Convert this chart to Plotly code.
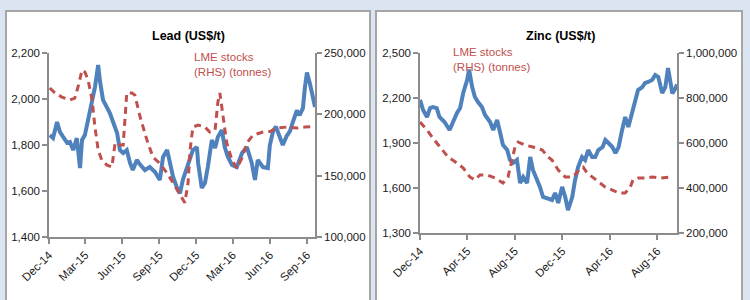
import plotly.graph_objects as go

# ---------------- Data ----------------
lead_price_dates = [
    "2014-12-03", "2014-12-11", "2014-12-21", "2014-12-28", "2015-01-05", "2015-01-15",
    "2015-01-22", "2015-01-30", "2015-02-08", "2015-02-16", "2015-02-21", "2015-02-28",
    "2015-03-08", "2015-03-18", "2015-03-25", "2015-04-02", "2015-04-06", "2015-04-14",
    "2015-04-24", "2015-05-01", "2015-05-09", "2015-05-19", "2015-05-26", "2015-06-03",
    "2015-06-12", "2015-06-20", "2015-06-27", "2015-07-07", "2015-07-15", "2015-07-27",
    "2015-08-08", "2015-08-21", "2015-09-02", "2015-09-10", "2015-09-20", "2015-09-27",
    "2015-10-05", "2015-10-14", "2015-10-22", "2015-10-29", "2015-11-08", "2015-11-16",
    "2015-11-23", "2015-12-03", "2015-12-06", "2015-12-15", "2015-12-23", "2015-12-30",
    "2016-01-09", "2016-01-17", "2016-01-24", "2016-02-03", "2016-02-10", "2016-02-18",
    "2016-02-28", "2016-03-11", "2016-03-24", "2016-04-05", "2016-04-17", "2016-04-25",
    "2016-05-02", "2016-05-15", "2016-05-27", "2016-06-01", "2016-06-09", "2016-06-16",
    "2016-06-26", "2016-07-03", "2016-07-13", "2016-07-21", "2016-07-28", "2016-08-07",
    "2016-08-14", "2016-08-22", "2016-08-27", "2016-09-01", "2016-09-08", "2016-09-16",
    "2016-09-21",
]
lead_price = [
    1843, 1830, 1900, 1857, 1835, 1809,
    1813, 1778, 1830, 1700, 1822, 1843,
    1909, 1996, 2052, 2148, 2083, 1996,
    1961, 1939, 1900, 1852, 1778, 1765,
    1778, 1722, 1691, 1735, 1715, 1691,
    1704, 1683, 1648, 1748, 1778, 1722,
    1661, 1617, 1590, 1648, 1704, 1748,
    1778, 1791, 1722, 1613, 1635, 1704,
    1822, 1787, 1835, 1865, 1791, 1748,
    1713, 1704, 1765, 1791, 1722, 1648,
    1735, 1704, 1700, 1800, 1860, 1880,
    1830, 1800, 1840, 1860, 1900, 1950,
    1930, 1960, 2050, 2115, 2070, 2000,
    1965,
]

lead_stock_dates = [
    "2014-12-03", "2014-12-16", "2015-01-02", "2015-01-22", "2015-02-03", "2015-02-11",
    "2015-02-21", "2015-02-28", "2015-03-08", "2015-03-18", "2015-03-25", "2015-04-02",
    "2015-04-11", "2015-04-24", "2015-05-06", "2015-05-14", "2015-05-21", "2015-06-03",
    "2015-06-12", "2015-06-25", "2015-07-02", "2015-07-15", "2015-08-01", "2015-08-16",
    "2015-09-02", "2015-09-20", "2015-10-05", "2015-10-22", "2015-11-03", "2015-11-11",
    "2015-11-16", "2015-11-23", "2015-12-06", "2015-12-23", "2016-01-04", "2016-01-17",
    "2016-01-24", "2016-01-29", "2016-02-06", "2016-02-15", "2016-02-28", "2016-03-11",
    "2016-03-24", "2016-04-05", "2016-04-20", "2016-05-15", "2016-06-01", "2016-06-18",
    "2016-07-13", "2016-08-07", "2016-08-27", "2016-09-16",
]
lead_stock = [
    221500, 217400, 214100, 211700, 213300, 222300,
    236100, 234500, 228000, 211700, 189600, 170900,
    162700, 158600, 157000, 176600, 175000, 175000,
    217400, 217400, 215700, 198000, 179000, 165000,
    160000, 152000, 144000, 134000, 128000, 144000,
    171000, 189600, 191300, 189600, 185600, 187200,
    210000, 217400, 197000, 176600, 162700, 156000,
    164400, 176600, 183000, 185600, 186000, 188800,
    189600, 188800, 189600, 190000,
]

zinc_price_dates = [
    "2014-12-01", "2014-12-09", "2014-12-19", "2014-12-27", "2015-01-03", "2015-01-13",
    "2015-01-20", "2015-02-02", "2015-02-15", "2015-02-23", "2015-03-06", "2015-03-14",
    "2015-03-22", "2015-04-01", "2015-04-06", "2015-04-14", "2015-04-21", "2015-04-29",
    "2015-05-09", "2015-05-17", "2015-05-30", "2015-06-07", "2015-06-17", "2015-06-25",
    "2015-07-02", "2015-07-13", "2015-07-20", "2015-07-28", "2015-08-07", "2015-08-15",
    "2015-08-23", "2015-09-02", "2015-09-10", "2015-09-17", "2015-09-28", "2015-10-05",
    "2015-10-13", "2015-10-23", "2015-11-05", "2015-11-13", "2015-11-21", "2015-12-01",
    "2015-12-09", "2015-12-16", "2015-12-27", "2016-01-03", "2016-01-11", "2016-01-21",
    "2016-01-29", "2016-02-06", "2016-02-16", "2016-02-24", "2016-03-03", "2016-03-14",
    "2016-03-21", "2016-03-29", "2016-04-08", "2016-04-16", "2016-04-24", "2016-05-03",
    "2016-05-11", "2016-05-19", "2016-05-29", "2016-06-06", "2016-06-13", "2016-06-24",
    "2016-07-01", "2016-07-09", "2016-07-19", "2016-07-27", "2016-08-04", "2016-08-14",
    "2016-08-22", "2016-08-29", "2016-09-03", "2016-09-09", "2016-09-16", "2016-09-21",
]
zinc_price = [
    2187, 2120, 2073, 2133, 2140, 2133,
    2073, 2040, 1987, 2040, 2100, 2133,
    2233, 2320, 2390, 2273, 2207, 2173,
    2140, 2087, 2040, 1987, 2053, 1967,
    1887, 1853, 1787, 1767, 1787, 1633,
    1673, 1633, 1807, 1720, 1653, 1607,
    1540, 1530, 1520, 1567, 1500, 1607,
    1540, 1453, 1540, 1650, 1740, 1807,
    1787, 1853, 1807, 1807, 1853, 1873,
    1920, 1900, 1873, 1833, 1873, 1987,
    2073, 2007, 2100, 2167, 2253, 2273,
    2300, 2307, 2320, 2353, 2340, 2233,
    2273, 2400, 2300, 2230, 2260, 2290,
]

zinc_stock_dates = [
    "2014-12-01", "2014-12-19", "2015-01-03", "2015-01-27", "2015-02-11", "2015-03-06",
    "2015-03-22", "2015-04-08", "2015-04-21", "2015-05-04", "2015-05-22", "2015-06-12",
    "2015-07-02", "2015-07-15", "2015-07-25", "2015-08-02", "2015-08-10", "2015-08-28",
    "2015-09-17", "2015-10-11", "2015-10-26", "2015-11-05", "2015-11-21", "2015-12-09",
    "2015-12-27", "2016-01-08", "2016-01-16", "2016-01-24", "2016-02-03", "2016-02-16",
    "2016-03-03", "2016-03-21", "2016-04-08", "2016-04-24", "2016-05-11", "2016-05-24",
    "2016-05-31", "2016-06-13", "2016-07-01", "2016-07-19", "2016-08-09", "2016-09-04",
]
zinc_stock = [
    693000, 658000, 622000, 569000, 538000, 511000,
    489000, 449000, 436000, 458000, 458000, 444000,
    422000, 449000, 524000, 582000, 604000, 591000,
    582000, 569000, 538000, 524000, 480000, 449000,
    449000, 467000, 489000, 493000, 467000, 449000,
    427000, 404000, 391000, 378000, 378000, 404000,
    436000, 444000, 444000, 449000, 444000, 449000,
]

lead_left_ticks = [1400, 1600, 1800, 2000, 2200]
lead_right_ticks = [100000, 150000, 200000, 250000]
zinc_left_ticks = [1300, 1600, 1900, 2200, 2500]
zinc_right_ticks = [200000, 400000, 600000, 800000, 1000000]

titles = ["Lead (US$/t)", "Zinc (US$/t)"]
stock_label = "LME stocks<br>(RHS) (tonnes)"

# ---------------- Styles ----------------
BLUE = "#4f81bd"
RED = "#c0504d"
AXIS = "#8c8c8c"
FONT = "Liberation Sans, Arial, sans-serif"
W, H = 750, 300

def px_x(p):
    return p / W

def px_y(p):
    return 1 - p / H

fig = go.Figure()

fig.add_trace(go.Scatter(x=lead_price_dates, y=lead_price, mode="lines",
                         line=dict(color=BLUE, width=4), xaxis="x", yaxis="y"))
fig.add_trace(go.Scatter(x=lead_stock_dates, y=lead_stock, mode="lines",
                         line=dict(color=RED, width=3, dash="7px,5px"), xaxis="x", yaxis="y2"))
fig.add_trace(go.Scatter(x=zinc_price_dates, y=zinc_price, mode="lines",
                         line=dict(color=BLUE, width=4), xaxis="x2", yaxis="y3"))
fig.add_trace(go.Scatter(x=zinc_stock_dates, y=zinc_stock, mode="lines",
                         line=dict(color=RED, width=3, dash="7px,5px"), xaxis="x2", yaxis="y4"))

tickfont = dict(family=FONT, size=11.5, color="#1a1a1a")

def xax(domain, dtick, anchor):
    return dict(domain=domain, anchor=anchor, type="date", automargin=False,
                range=["2014-12-01", "2016-09-21"],
                tick0="2014-12-01", dtick=dtick, tickformat="%b-%y",
                tickangle=-45, showline=True, linecolor=AXIS, linewidth=1.5,
                ticks="outside", ticklen=5, tickcolor=AXIS, tickwidth=1.5,
                showgrid=False, zeroline=False, tickfont=tickfont)

def yax(domain, rng, tickvals, anchor, side="left", overlaying=None):
    d = dict(domain=domain, anchor=anchor, range=rng, tickvals=tickvals, automargin=False,
             tickformat=",", side=side, showline=True, linecolor=AXIS, linewidth=1.5,
             ticks="outside", ticklen=5, tickcolor=AXIS, tickwidth=1.5,
             showgrid=False, zeroline=False, tickfont=tickfont)
    if overlaying:
        d["overlaying"] = overlaying
    return d

lead_xd = [px_x(49), px_x(315)]
lead_yd = [px_y(237), px_y(53)]
zinc_xd = [px_x(420), px_x(677)]
zinc_yd = [px_y(233), px_y(53)]

fig.update_layout(
    width=W, height=H,
    margin=dict(l=0, r=0, t=0, b=0, autoexpand=False),
    paper_bgcolor="#dbe5f1",
    plot_bgcolor="rgba(0,0,0,0)",
    showlegend=False,
    font=dict(family=FONT),
    xaxis=xax(lead_xd, "M3", "y"),
    yaxis=yax(lead_yd, [1400, 2200], lead_left_ticks, "x"),
    yaxis2=yax(lead_yd, [100000, 250000], lead_right_ticks, "x", side="right", overlaying="y"),
    xaxis2=xax(zinc_xd, "M4", "y3"),
    yaxis3=yax(zinc_yd, [1300, 2500], zinc_left_ticks, "x2"),
    yaxis4=yax(zinc_yd, [200000, 1000000], zinc_right_ticks, "x2", side="right", overlaying="y3"),
)

# panel backgrounds
for x0, x1 in [(6, 370), (376, 742)]:
    fig.add_shape(type="rect", xref="paper", yref="paper", layer="below",
                  x0=px_x(x0), x1=px_x(x1), y0=px_y(310), y1=px_y(11),
                  fillcolor="white", line=dict(color="#a6a6a6", width=2))

# titles
for t, cx in zip(titles, [188, 560]):
    fig.add_annotation(text="<b>" + t + "</b>", xref="paper", yref="paper",
                       x=px_x(cx), y=px_y(36), xanchor="center", yanchor="middle",
                       showarrow=False, font=dict(family=FONT, size=12.5, color="#000"))

# stock labels
for lx, cy in [(192, 64.5), (451, 60)]:
    fig.add_annotation(text=stock_label, xref="paper", yref="paper",
                       x=px_x(lx), y=px_y(cy), xanchor="left", yanchor="middle",
                       align="left", showarrow=False,
                       font=dict(family=FONT, size=11.5, color=RED))

fig.write_html(
    "out.html",
    config={"displayModeBar": False},
    post_script="document.body.style.margin='0';document.body.style.background='#dbe5f1';",
)
